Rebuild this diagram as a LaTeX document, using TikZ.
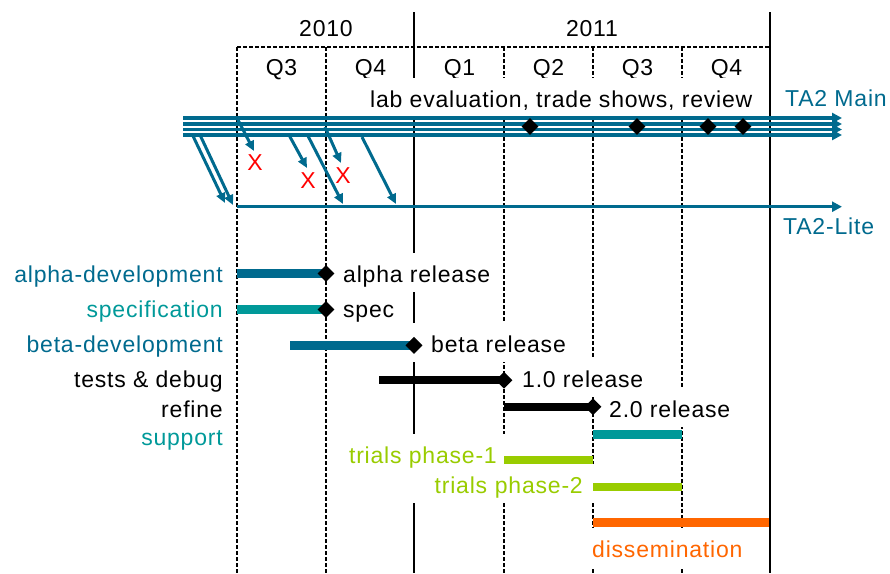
\documentclass[tikz,border=0pt]{standalone}
\usepackage{fontspec}
\setmainfont{Liberation Sans}[LetterSpace=3.5]
\usetikzlibrary{arrows.meta,shapes.geometric}
\definecolor{tadark}{RGB}{0,106,142}
\definecolor{tateal}{RGB}{0,153,153}
\definecolor{talime}{RGB}{153,204,0}
\definecolor{taorange}{RGB}{255,102,0}
\definecolor{tared}{RGB}{255,0,0}

\begin{document}
\begin{tikzpicture}[x=1pt,y=-1pt,
  lbl/.style={font=\fontsize{23}{27}\selectfont, inner sep=0pt},
  cover/.style={lbl, fill=white, inner xsep=8pt, inner ysep=0pt,
                text height=29.5pt, text depth=10pt},
  qline/.style={line width=1.2pt, dash pattern=on 3.5pt off 2.5pt},
  yearline/.style={line width=2.5pt},
  mainflow/.style={draw=tadark, line width=3.3pt,
                   -{Triangle[length=10pt,width=10pt]}},
  branch/.style={draw=tadark, line width=3pt,
                 -{Triangle[length=10pt,width=9pt]}},
  ganttbar/.style={line width=8.5pt},
  milestone/.style={diamond, fill=black, inner sep=0pt, minimum size=17pt},
  dropmark/.style={lbl, text=tared}
]
\useasboundingbox (0,0) rectangle (890,573);

% ---- quarter grid and year boundaries
\draw[qline] (237,47) -- (770,47);
\foreach \x in {237,326,504,593,682}
  \draw[qline] (\x,47) -- (\x,573);
\draw[yearline] (414,12) -- (414,573);
\draw[yearline] (770,12) -- (770,573);

% ---- calendar headings
\node[lbl, anchor=base] (y2010) at (326,36) {2010};
\node[lbl, anchor=base] (y2011) at (592,36) {2011};
\node[lbl, anchor=base] (q3a) at (281.5,75) {Q3};
\node[lbl, anchor=base] (q4a) at (370.5,75) {Q4};
\node[lbl, anchor=base] (q1b) at (459.5,75) {Q1};
\node[lbl, anchor=base] (q2b) at (548.5,75) {Q2};
\node[lbl, anchor=base] (q3b) at (637.5,75) {Q3};
\node[lbl, anchor=base] (q4b) at (726.5,75) {Q4};

% ---- labels on white boxes (they mask the grid behind them)
\node[cover, anchor=base west] (labeval) at (362,107) {lab evaluation, trade shows, review};
\node[cover, anchor=base west] (alpharel) at (335,282) {alpha release};
\node[cover, anchor=base west, inner xsep=21pt] (betarel) at (410,352) {beta release};
\node[cover, anchor=base west] (rel10) at (514,387) {1.0 release};
\node[cover, anchor=base west] (rel20) at (601,417) {2.0 release};
\node[cover, anchor=base east, inner xsep=11pt, text width=172pt, align=right,
      text=talime] (trials2) at (594,493) {trials phase-2};
\node[cover, anchor=base east, inner xsep=10pt, text=talime] (trials1) at (507,463) {trials phase-1};
\node[cover, anchor=base west, text=taorange] (dissem) at (584,557) {dissemination};

% ---- plain labels
\node[lbl, anchor=base west] (spec) at (343,317) {spec};
\node[lbl, anchor=base west, text=tadark] (tamain) at (785,106) {TA2 Main};
\node[lbl, anchor=base west, text=tadark] (talite) at (783,234) {TA2-Lite};
\node[lbl, anchor=base east, text=tadark] (alphadev) at (223,282) {alpha-development};
\node[lbl, anchor=base east, text=tateal] (specif) at (223,317) {specification};
\node[lbl, anchor=base east, text=tadark] (betadev) at (223,352) {beta-development};
\node[lbl, anchor=base east] (tests) at (223,387) {tests \& debug};
\node[lbl, anchor=base east] (refine) at (223,417) {refine};
\node[lbl, anchor=base east, text=tateal] (support) at (223,445) {support};

% ---- TA2 Main stream and TA2-Lite branch
\foreach \y [count=\i] in {118,124,129.5,135} {
  \coordinate (ms\i) at (183,\y);
  \coordinate (me\i) at (842,\y);
  \draw[mainflow] (ms\i) -- (me\i);
}
\coordinate (ls) at (237,206.7);
\coordinate (le) at (842,206.7);
\draw[mainflow, line width=3pt] (ls) -- (le);

% branches from the main stream
\coordinate (b1s) at (193,136);   \coordinate (b1e) at (225,203);
\coordinate (b2s) at (200.5,136); \coordinate (b2e) at (233,205);
\coordinate (b3s) at (237,118);   \coordinate (b3e) at (254,151);
\coordinate (b4s) at (289,135);   \coordinate (b4e) at (307,168);
\coordinate (b5s) at (308,136);   \coordinate (b5e) at (343,204);
\coordinate (b6s) at (325,127);   \coordinate (b6e) at (341,163);
\coordinate (b7s) at (362,137);   \coordinate (b7e) at (396,204);
\foreach \i in {1,...,7}
  \draw[branch] (b\i s) -- (b\i e);

% abandoned branches
\node[dropmark, anchor=base] (x1) at (255,170) {X};
\node[dropmark, anchor=base] (x2) at (308,188) {X};
\node[dropmark, anchor=base] (x3) at (343,183) {X};

% events on the main stream
\foreach \x [count=\i] in {530,637,708,743}
  \node[milestone] (ev\i) at (\x,126.5) {};

% ---- work packages
\draw[ganttbar, tadark]   (237,273.5) -- (326,273.5);
\draw[ganttbar, tateal]   (237,309.5) -- (326,309.5);
\draw[ganttbar, tadark]   (290,345.4) -- (414,345.4);
\draw[ganttbar, black]    (379,380.2) -- (504,380.2);
\draw[ganttbar, black]    (504,406.8) -- (593,406.8);
\draw[ganttbar, tateal]   (593,434.5) -- (682,434.5);
\draw[ganttbar, talime]   (504,460.2) -- (593,460.2);
\draw[ganttbar, talime]   (593,486.8) -- (682,486.8);
\draw[ganttbar, taorange] (593,522.5) -- (769,522.5);

% releases
\node[milestone] (malpha) at (326,273.5) {};
\node[milestone] (mspec)  at (326,309.5) {};
\node[milestone] (mbeta)  at (414,345.4) {};
\node[milestone] (m10)    at (504,380.2) {};
\node[milestone] (m20)    at (593,406.8) {};
\end{tikzpicture}
\end{document}
